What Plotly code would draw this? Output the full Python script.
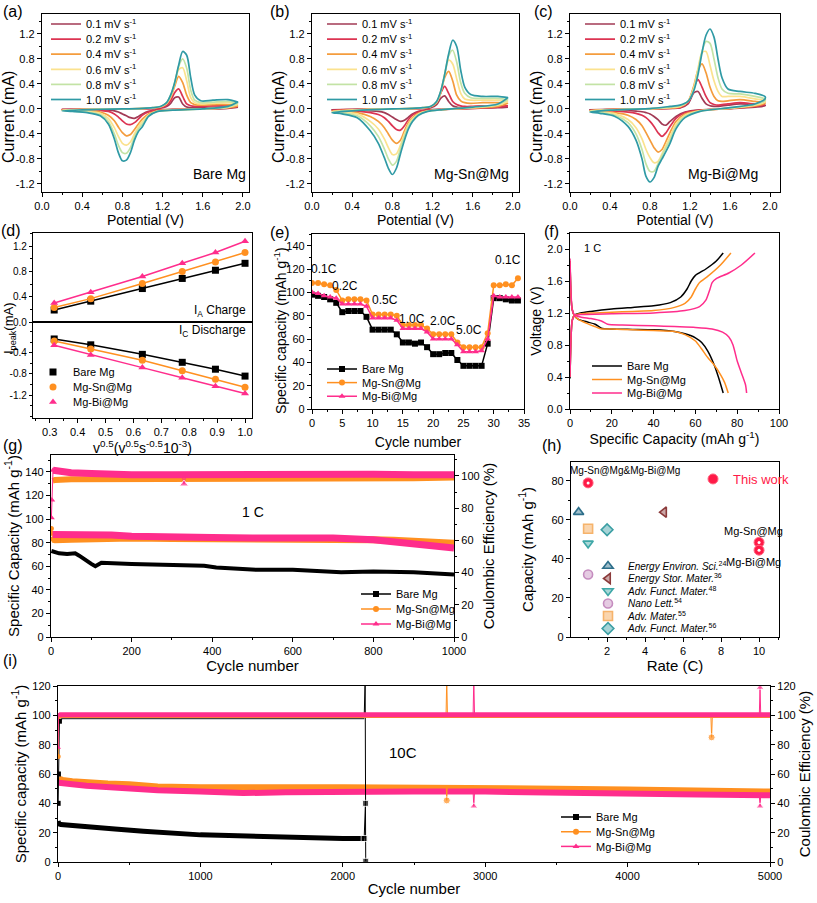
import plotly.graph_objects as go

W, H = 817, 903
FONT = "Liberation Sans, Arial, sans-serif"
BLACK = "#000000"
ORANGE = "#ff9020"
PINK = "#ff2d8c"

# ---------------- (a)-(c) CV curves ----------------
cv_rates = ["0.1", "0.2", "0.4", "0.6", "0.8", "1.0"]
cv_colors = ["#a23a55", "#dc3452", "#f49c3d", "#fbe28e", "#c3e3a5", "#2f9aa5"]
cv_v_fwd = [0.20, 0.40, 0.60, 0.80, 1.00, 1.10, 1.18, 1.24, 1.28, 1.32, 1.36, 1.40, 1.44, 1.48, 1.52, 1.58, 1.70, 1.85, 1.95]
cv_v_rev = [1.95, 1.85, 1.60, 1.30, 1.15, 1.06, 1.00, 0.96, 0.92, 0.88, 0.84, 0.80, 0.76, 0.72, 0.66, 0.58, 0.45, 0.30, 0.20]

a_fwd = [
    [-0.008, -0.004, 0, 0, 0.003, 0.006, 0.012, 0.04, 0.09, 0.18, 0.19, 0.08, 0.03, 0.02, 0.02, 0.02, 0.025, 0.03, 0.03],
    [-0.01, -0.005, 0, 0, 0.004, 0.01, 0.02, 0.06, 0.13, 0.26, 0.32, 0.2, 0.08, 0.05, 0.04, 0.04, 0.05, 0.05, 0.04],
    [-0.015, -0.008, -0.002, 0, 0.006, 0.015, 0.03, 0.08, 0.18, 0.36, 0.52, 0.42, 0.22, 0.1, 0.07, 0.06, 0.07, 0.07, 0.05],
    [-0.02, -0.01, -0.003, 0, 0.008, 0.018, 0.035, 0.09, 0.2, 0.4, 0.63, 0.66, 0.45, 0.18, 0.1, 0.08, 0.09, 0.1, 0.07],
    [-0.025, -0.012, -0.004, 0, 0.01, 0.02, 0.04, 0.1, 0.22, 0.42, 0.68, 0.8, 0.65, 0.3, 0.14, 0.1, 0.11, 0.12, 0.09],
    [-0.03, -0.015, -0.005, 0, 0.01, 0.02, 0.04, 0.1, 0.22, 0.42, 0.7, 0.92, 0.86, 0.5, 0.22, 0.13, 0.14, 0.15, 0.11],
]
a_rev = [
    [0.03, 0.01, 0, -0.008, -0.015, -0.04, -0.08, -0.12, -0.15, -0.14, -0.11, -0.08, -0.05, -0.03, -0.02, -0.012, -0.01, -0.008, -0.008],
    [0.04, 0.015, 0, -0.01, -0.02, -0.05, -0.1, -0.16, -0.22, -0.25, -0.24, -0.19, -0.13, -0.08, -0.04, -0.025, -0.015, -0.01, -0.01],
    [0.05, 0.02, 0, -0.012, -0.03, -0.08, -0.16, -0.24, -0.33, -0.41, -0.43, -0.38, -0.29, -0.19, -0.1, -0.05, -0.03, -0.02, -0.015],
    [0.07, 0.025, 0, -0.015, -0.035, -0.1, -0.2, -0.28, -0.4, -0.53, -0.58, -0.55, -0.44, -0.3, -0.15, -0.07, -0.04, -0.03, -0.02],
    [0.09, 0.03, 0, -0.02, -0.04, -0.11, -0.24, -0.32, -0.45, -0.62, -0.71, -0.7, -0.58, -0.4, -0.2, -0.09, -0.05, -0.035, -0.025],
    [0.11, 0.04, 0, -0.02, -0.04, -0.12, -0.28, -0.36, -0.5, -0.7, -0.82, -0.83, -0.7, -0.48, -0.24, -0.11, -0.06, -0.04, -0.03],
]
b_fwd = [
    [-0.015, -0.008, 0, 0, 0.003, 0.008, 0.02, 0.07, 0.17, 0.21, 0.12, 0.05, 0.03, 0.02, 0.02, 0.02, 0.025, 0.03, 0.03],
    [-0.02, -0.01, -0.002, 0, 0.004, 0.01, 0.03, 0.1, 0.25, 0.36, 0.25, 0.12, 0.07, 0.05, 0.04, 0.04, 0.05, 0.05, 0.05],
    [-0.03, -0.015, -0.004, 0, 0.006, 0.015, 0.035, 0.1, 0.25, 0.5, 0.6, 0.45, 0.22, 0.13, 0.1, 0.09, 0.1, 0.1, 0.09],
    [-0.04, -0.02, -0.006, 0, 0.008, 0.018, 0.04, 0.11, 0.27, 0.55, 0.78, 0.72, 0.48, 0.25, 0.16, 0.14, 0.14, 0.14, 0.12],
    [-0.05, -0.025, -0.008, 0, 0.01, 0.02, 0.04, 0.11, 0.27, 0.55, 0.85, 0.94, 0.75, 0.42, 0.25, 0.18, 0.17, 0.17, 0.15],
    [-0.06, -0.03, -0.01, 0, 0.01, 0.02, 0.04, 0.12, 0.28, 0.55, 0.88, 1.1, 1.0, 0.62, 0.35, 0.23, 0.2, 0.2, 0.18],
]
b_rev = [
    [0.03, 0.02, 0.008, -0.006, -0.015, -0.04, -0.08, -0.13, -0.18, -0.2, -0.17, -0.13, -0.09, -0.06, -0.04, -0.03, -0.02, -0.015, -0.015],
    [0.05, 0.03, 0.01, -0.008, -0.02, -0.05, -0.1, -0.17, -0.27, -0.34, -0.33, -0.27, -0.2, -0.14, -0.09, -0.06, -0.035, -0.025, -0.02],
    [0.09, 0.04, 0.015, -0.01, -0.03, -0.07, -0.14, -0.22, -0.35, -0.5, -0.55, -0.5, -0.4, -0.3, -0.2, -0.12, -0.06, -0.04, -0.03],
    [0.12, 0.06, 0.02, -0.01, -0.035, -0.08, -0.16, -0.25, -0.4, -0.58, -0.72, -0.73, -0.62, -0.48, -0.32, -0.2, -0.08, -0.05, -0.04],
    [0.15, 0.07, 0.025, -0.01, -0.04, -0.09, -0.18, -0.28, -0.44, -0.64, -0.84, -0.9, -0.8, -0.64, -0.44, -0.27, -0.11, -0.065, -0.05],
    [0.18, 0.08, 0.03, -0.01, -0.04, -0.1, -0.2, -0.32, -0.5, -0.72, -0.95, -1.05, -0.95, -0.78, -0.55, -0.35, -0.14, -0.08, -0.06],
]
c_fwd = [
    [-0.015, -0.006, 0, 0.001, 0.008, 0.015, 0.08, 0.26, 0.28, 0.17, 0.08, 0.05, 0.04, 0.04, 0.05, 0.06, 0.08, 0.07, 0.06],
    [-0.02, -0.008, 0, 0.002, 0.01, 0.02, 0.1, 0.35, 0.47, 0.35, 0.2, 0.1, 0.07, 0.06, 0.07, 0.08, 0.1, 0.08, 0.07],
    [-0.025, -0.01, -0.002, 0.002, 0.015, 0.03, 0.12, 0.38, 0.62, 0.72, 0.58, 0.35, 0.2, 0.13, 0.12, 0.13, 0.15, 0.12, 0.1],
    [-0.03, -0.012, -0.003, 0.003, 0.02, 0.04, 0.12, 0.35, 0.65, 0.9, 0.92, 0.7, 0.45, 0.28, 0.2, 0.2, 0.2, 0.16, 0.13],
    [-0.04, -0.016, -0.004, 0.004, 0.03, 0.05, 0.12, 0.32, 0.6, 0.92, 1.08, 1.05, 0.8, 0.5, 0.32, 0.25, 0.24, 0.2, 0.16],
    [-0.05, -0.02, -0.005, 0.005, 0.04, 0.06, 0.12, 0.3, 0.55, 0.9, 1.18, 1.28, 1.15, 0.8, 0.5, 0.32, 0.28, 0.25, 0.2],
]
c_rev = [
    [0.05, 0.03, 0.006, -0.015, -0.05, -0.12, -0.2, -0.26, -0.24, -0.17, -0.12, -0.08, -0.06, -0.045, -0.035, -0.025, -0.02, -0.015, -0.015],
    [0.07, 0.04, 0.008, -0.02, -0.06, -0.15, -0.28, -0.38, -0.44, -0.38, -0.28, -0.2, -0.14, -0.1, -0.07, -0.05, -0.035, -0.025, -0.02],
    [0.09, 0.05, 0.01, -0.025, -0.08, -0.2, -0.38, -0.52, -0.65, -0.69, -0.62, -0.5, -0.38, -0.27, -0.17, -0.1, -0.06, -0.04, -0.025],
    [0.11, 0.06, 0.012, -0.03, -0.1, -0.24, -0.45, -0.58, -0.72, -0.84, -0.86, -0.78, -0.65, -0.48, -0.3, -0.17, -0.08, -0.05, -0.03],
    [0.13, 0.07, 0.015, -0.035, -0.12, -0.28, -0.5, -0.62, -0.75, -0.88, -1.0, -1.0, -0.88, -0.65, -0.4, -0.22, -0.1, -0.06, -0.04],
    [0.16, 0.08, 0.02, -0.04, -0.14, -0.32, -0.55, -0.68, -0.8, -0.92, -1.1, -1.17, -1.08, -0.8, -0.5, -0.28, -0.12, -0.07, -0.05],
]

# ---------------- (d) peak current vs v^0.5 ----------------
d_v = [0.316, 0.447, 0.632, 0.775, 0.894, 1.0]
d_ia_bare = [0.19, 0.33, 0.53, 0.69, 0.82, 0.93]
d_ia_sn = [0.23, 0.37, 0.61, 0.80, 0.95, 1.10]
d_ia_bi = [0.30, 0.47, 0.72, 0.93, 1.10, 1.28]
d_ic_bare = [-0.14, -0.25, -0.43, -0.58, -0.71, -0.84]
d_ic_sn = [-0.18, -0.33, -0.54, -0.74, -0.90, -1.05]
d_ic_bi = [-0.26, -0.44, -0.68, -0.87, -1.03, -1.17]

# ---------------- (e) rate performance ----------------
e_cycle = list(range(35))
e_bare = [98, 97, 96, 94, 91, 83, 84, 84, 84, 79, 68, 68, 68, 68, 64, 57, 57, 56, 57, 53,
          47, 47, 48, 48, 42, 37, 37, 37, 37, 56, 95, 95, 94, 93, 93]
e_sn = [108, 108, 107, 106, 102, 93, 94, 94, 94, 93, 81, 81, 81, 81, 80, 72, 72, 72, 72, 69,
        64, 64, 64, 64, 57, 53, 53, 53, 53, 65, 106, 106, 107, 106, 112]
e_bi = [100, 99, 97, 96, 95, 90, 90, 90, 90, 88, 78, 78, 78, 78, 76, 69, 69, 69, 69, 66,
        60, 60, 60, 60, 55, 49, 49, 49, 50, 60, 97, 96, 96, 96, 96]
e_rate_labels = ["0.1C", "0.2C", "0.5C", "1.0C", "2.0C", "5.0C", "0.1C"]
e_label_x = [1.9, 5.5, 12.0, 16.5, 21.7, 26.0, 32.4]
e_label_y = [120, 105, 93, 77.5, 75.5, 68, 128]

# ---------------- (f) charge/discharge at 1 C ----------------
f_bare_chg_x = [0, 0.5, 1, 2, 5, 10, 20, 30, 40, 48, 53, 56, 58, 60, 65, 70, 73.3]
f_bare_chg_y = [0.38, 0.9, 1.1, 1.17, 1.2, 1.22, 1.25, 1.27, 1.29, 1.33, 1.4, 1.5, 1.6, 1.67, 1.75, 1.85, 1.95]
f_bare_dis_x = [0, 0.5, 1, 2, 4, 8, 12, 15, 20, 30, 40, 50, 55, 60, 63, 66, 69, 71, 73.3]
f_bare_dis_y = [1.85, 1.4, 1.25, 1.17, 1.12, 1.09, 1.06, 1.01, 1.0, 0.995, 0.99, 0.97, 0.94, 0.89, 0.83, 0.72, 0.55, 0.4, 0.2]
f_sn_chg_x = [0, 0.5, 1, 2, 5, 10, 20, 30, 40, 50, 55, 58, 60, 62, 66, 72, 77]
f_sn_chg_y = [0.4, 0.9, 1.1, 1.17, 1.19, 1.2, 1.21, 1.22, 1.23, 1.27, 1.32, 1.4, 1.5, 1.58, 1.66, 1.8, 1.95]
f_sn_dis_x = [0, 0.5, 1, 2, 4, 8, 12, 15, 20, 30, 40, 50, 55, 60, 63, 66, 69, 72, 74, 75.7]
f_sn_dis_y = [1.85, 1.4, 1.25, 1.17, 1.12, 1.07, 1.03, 1.0, 1.0, 0.99, 0.98, 0.97, 0.93, 0.85, 0.75, 0.64, 0.55, 0.43, 0.33, 0.2]
f_bi_chg_x = [0, 0.5, 1, 2, 5, 20, 40, 55, 62, 65, 67, 68, 70, 76, 82, 88.5]
f_bi_chg_y = [0.4, 0.9, 1.1, 1.16, 1.18, 1.19, 1.2, 1.23, 1.28, 1.36, 1.5, 1.58, 1.63, 1.7, 1.8, 1.95]
f_bi_dis_x = [0, 0.5, 1, 2, 5, 10, 15, 18, 25, 40, 50, 60, 68, 73, 76, 78, 80, 82, 84, 84.5]
f_bi_dis_y = [1.88, 1.45, 1.25, 1.18, 1.15, 1.13, 1.1, 1.06, 1.05, 1.04, 1.03, 1.02, 1.0, 0.96, 0.9, 0.8, 0.6, 0.45, 0.3, 0.2]

# ---------------- (g) 1 C cycling ----------------
g_bare_x = [1, 20, 40, 60, 70, 85, 100, 110, 125, 200, 300, 380, 410, 480, 510, 600, 700, 720, 800, 900, 1000]
g_bare_y = [73, 71, 70.5, 71, 69, 65, 62, 60, 63, 62, 61.5, 60.5, 59, 58, 57, 57, 56, 55, 55.5, 55, 53]
g_cap_x = [4, 10, 50, 100, 150, 200, 300, 400, 500, 600, 700, 800, 850, 900, 950, 1000]
g_sn_cap = [83, 82.5, 83, 83.5, 84, 84, 83.5, 83.5, 83, 83, 83, 82.5, 82, 81, 80, 79.5]
g_bi_cap = [87, 87, 87, 87, 86.5, 85.5, 84.5, 84.5, 84, 84, 84, 82.5, 81, 79.5, 77, 75.5]
g_sn_ce_x = [4, 10, 50, 100, 200, 300, 400, 500, 600, 700, 800, 900, 1000]
g_sn_ce = [97, 97.5, 98, 98, 98.3, 98.3, 98.5, 98.5, 98.3, 98.5, 98.5, 98.5, 99]
g_bi_ce_x = [5, 20, 50, 100, 150, 200, 300, 400, 500, 600, 700, 800, 900, 1000]
g_bi_ce = [103.5, 103, 102, 101.5, 101, 100.8, 100.8, 101, 101, 101, 101, 101, 100.8, 100.8]
g_sn_first_x = [1, 2, 4]
g_sn_first_cap = [92, 88, 83]
g_bi_first_x = [1, 2, 5]
g_bi_first_ce = [74, 85, 103.5]
g_bi_out_x = [325, 330, 335]
g_bi_out_ce = [101, 95, 101]

# ---------------- (h) comparison ----------------
h_refs = ["<i>Energy Environ. Sci.</i><sup>24</sup>", "<i>Energy Stor. Mater.</i><sup>36</sup>",
          "<i>Adv. Funct. Mater.</i><sup>48</sup>", "<i>Nano Lett.</i><sup>54</sup>",
          "<i>Adv. Mater.</i><sup>55</sup>", "<i>Adv. Funct. Mater.</i><sup>56</sup>"]
h_rate = [0.5, 5.0, 1.0, 1.0, 1.0, 2.0]
h_cap = [64, 64, 48, 32, 55.5, 55]
h_symbols = ["triangle-up", "triangle-left", "triangle-down", "circle", "square", "diamond"]
h_colors = ["#2c6e8a", "#8b3a3a", "#3ea7a7", "#c58cbf", "#f6b36b", "#3a9ea3"]
h_fills = ["rgba(44,110,138,0.45)", "rgba(139,58,58,0.45)", "rgba(62,167,167,0.45)",
           "rgba(197,140,191,0.45)", "rgba(246,179,107,0.55)", "rgba(58,158,163,0.45)"]
h_work_rate = [1.0, 10.0, 10.0]
h_work_cap = [79, 48.5, 44.5]

# ---------------- (i) 10 C long cycling ----------------
i_bare_x = [1, 5, 20, 100, 200, 400, 600, 800, 1000, 1200, 1500, 1800, 2000, 2150]
i_bare_cap = [28, 26, 25.5, 25, 24, 22.5, 21, 19.5, 18.5, 18, 17, 16.5, 16, 16]
i_bare_ce_x = [10, 30, 100, 500, 1000, 1500, 2000, 2150]
i_bare_ce = [96, 97.8, 97.8, 97.8, 97.8, 97.8, 97.8, 97.8]
i_bare_first_x = [1, 3, 10]
i_bare_first_ce = [40, 60, 96]
i_bare_end_x = [2150, 2157, 2160]
i_bare_end_ce = [98, 125, 40]
i_bare_drop_x = [2150, 2159, 2161]
i_bare_drop_cap = [16, 40, 0.5]
i_cap_x = [5, 30, 100, 200, 350, 500, 700, 1000, 1300, 1600, 2000, 2500, 3000, 3500, 4000, 4500, 5000]
i_sn_cap = [57, 56, 55, 54, 53.5, 53, 51.5, 51, 50.5, 51, 51, 51, 51, 50, 49.5, 48.5, 48]
i_bi_cap = [54, 53.5, 53, 52, 51, 50, 49, 48, 47, 47.5, 48, 48, 48, 47, 46.5, 46, 45.5]
i_ce_x = [10, 1000, 2000, 3000, 4000, 5000]
i_sn_ce = [99.6, 99.6, 99.6, 99.6, 99.6, 99.6]
i_bi_ce = [100.4, 100.4, 100.4, 100.4, 100.4, 100.4]
i_sn_first_x = [1, 3, 10]
i_sn_first = [72, 99, 99.6]
i_bi_first_x = [1, 3, 10]
i_bi_first = [78, 100, 100.4]
i_sn_out_x = [[2725, 2730, 2735], [2727, 2730, 2733], [4585, 4590, 4595]]
i_sn_out_y = [[99.6, 125, 99.6], [51, 42, 51], [99.6, 85, 99.6]]
i_sn_out_mark = [False, True, True]
i_bi_out_x = [[2915, 2920, 2925], [2915, 2920, 2925], [4925, 4930, 4935], [4925, 4930, 4935]]
i_bi_out_y = [[100.4, 125, 100.4], [48, 38, 48], [100.4, 119, 100.4], [45.5, 38, 45.5]]
i_bi_out_mark = [False, True, True, True]

# =================================================================
def px_x(x0, x1):
    return [x0 / W, x1 / W]


def px_y(top, bottom):
    return [1 - bottom / H, 1 - top / H]


def ttl(text, size=14, standoff=3):
    return dict(text=text, font=dict(family=FONT, size=size, color="black"), standoff=standoff)


def axis(dom, rng, **kw):
    d = dict(domain=dom, range=rng, showline=True, linecolor="black", linewidth=1.3, mirror=True,
             ticks="outside", ticklen=4, tickwidth=1.1, tickcolor="black",
             tickfont=dict(family=FONT, size=11, color="black"),
             showgrid=False, zeroline=False, automargin=False, fixedrange=True)
    d.update(kw)
    return d


def fmt_ticks(vals, nd=1):
    return dict(tickmode="array", tickvals=vals, ticktext=[f"{v:.{nd}f}" for v in vals])


def minor(dt):
    return dict(ticks="outside", ticklen=2, tickcolor="black", dtick=dt, tick0=0)


def vtitle(text, x_px, y_px, size):
    return dict(x=x_px / W, y=1 - y_px / H, xref="paper", yref="paper", textangle=-90, text=text,
                xanchor="center", yanchor="middle",
                showarrow=False, font=dict(family=FONT, size=size, color="black"))


legends = {}
_lc = [0]


def new_legend(x_px, y_px, size=11, color="black"):
    _lc[0] += 1
    key = "legend" if _lc[0] == 1 else f"legend{_lc[0]}"
    legends[key] = dict(x=x_px / W, y=1 - y_px / H, xanchor="left", yanchor="middle",
                        bgcolor="rgba(0,0,0,0)", borderwidth=0, itemwidth=30, tracegroupgap=0,
                        font=dict(family=FONT, size=size, color=color))
    return key


fig = go.Figure()
layout = {}
annotations = []

cv_v_loop = cv_v_fwd + cv_v_rev
cv_xticks = [0.0, 0.4, 0.8, 1.2, 1.6, 2.0]
cv_yticks = [-1.2, -0.8, -0.4, 0.0, 0.4, 0.8, 1.2]
cv_panels = [
    (a_fwd, a_rev, "x", "y", (42, 249), [0, 2.06], 46, "Bare Mg", 1.77),
    (b_fwd, b_rev, "x2", "y2", (312, 519), [0, 2.06], 322, "Mg-Sn@Mg", 1.59),
    (c_fwd, c_rev, "x3", "y3", (570, 780), [0, 2.1], 580, "Mg-Bi@Mg", 1.53),
]
for k, (fwd, rev, xa, ya, xd, xr, lx, lab, labx) in enumerate(cv_panels):
    for i, rate in enumerate(cv_rates):
        key = new_legend(lx, 24 + i * 15.1)
        fig.add_trace(go.Scatter(x=cv_v_loop, y=fwd[i] + rev[i], mode="lines",
                                 line=dict(color=cv_colors[i], width=1.7, shape="spline", smoothing=0.8),
                                 name=f"{rate} mV s<sup>-1</sup>", legend=key, xaxis=xa, yaxis=ya))
    sfx = "" if k == 0 else str(k + 1)
    layout["xaxis" + sfx] = axis(px_x(*xd), xr, anchor=ya, title=ttl("Potential (V)", 14, 2),
                                 minor=minor(0.2), **fmt_ticks(cv_xticks))
    layout["yaxis" + sfx] = axis(px_y(14, 192), [-1.33, 1.52], anchor=xa,
                                 minor=minor(0.2), **fmt_ticks(cv_yticks))
    annotations.append(vtitle("Current (mA)", xd[0] - 33, 117, 16))
    annotations.append(dict(x=labx, y=-1.04, xref=xa, yref=ya, text=lab, showarrow=False,
                            font=dict(family=FONT, size=14, color="black")))

# ---- (d)
d_series = [("Bare Mg", BLACK, "square", d_ia_bare, d_ic_bare),
            ("Mg-Sn@Mg", ORANGE, "circle", d_ia_sn, d_ic_sn),
            ("Mg-Bi@Mg", PINK, "triangle-up", d_ia_bi, d_ic_bi)]
for i, (nm, col, sym, ia, ic) in enumerate(d_series):
    fig.add_trace(go.Scatter(x=d_v, y=ia, mode="lines+markers", line=dict(color=col, width=1.5),
                             marker=dict(symbol=sym, size=7, color=col), showlegend=False,
                             xaxis="x4", yaxis="y4"))
    key = new_legend(33, 372 + i * 15)
    fig.add_trace(go.Scatter(x=d_v, y=ic, mode="lines+markers", line=dict(color=col, width=1.5),
                             marker=dict(symbol=sym, size=7, color=col), showlegend=False,
                             xaxis="x5", yaxis="y5"))
    fig.add_trace(go.Scatter(x=[None], y=[None], mode="markers", marker=dict(symbol=sym, size=7, color=col),
                             name=nm, legend=key, xaxis="x5", yaxis="y5"))
d_tickfont = dict(family=FONT, size=10, color="black")
layout["xaxis4"] = axis(px_x(33, 252), [0.24, 1.025], anchor="y4", showticklabels=False, ticks="")
layout["yaxis4"] = axis(px_y(233, 322), [0, 1.41], anchor="x4", minor=minor(0.2), ticklen=3,
                        tickfont=d_tickfont, **fmt_ticks([0.0, 0.4, 0.8, 1.2]))
layout["xaxis5"] = axis(px_x(33, 252), [0.24, 1.025], anchor="y5", minor=minor(0.05),
                        title=ttl("v<sup>0.5</sup>(v<sup>0.5</sup>s<sup>-0.5</sup>10<sup>-3</sup>)", 14, 0),
                        **fmt_ticks([0.3, 0.4, 0.5, 0.6, 0.7, 0.8, 0.9, 1.0]))
layout["yaxis5"] = axis(px_y(322, 418), [-1.63, 0.18], anchor="x5", minor=minor(0.2), ticklen=3,
                        tickfont=d_tickfont, **fmt_ticks([-1.2, -0.8, -0.4]))
annotations.append(dict(x=248 / W, y=1 - 311 / H, xref="paper", yref="paper", xanchor="right",
                        text="I<sub>A</sub> Charge", showarrow=False,
                        font=dict(family=FONT, size=12, color="black")))
annotations.append(dict(x=248 / W, y=1 - 331 / H, xref="paper", yref="paper", xanchor="right",
                        text="I<sub>C</sub> Discharge", showarrow=False,
                        font=dict(family=FONT, size=12, color="black")))
annotations.append(vtitle("I<sub>peak</sub>(mA)", 9, 328, 13))

# ---- (e)
e_series = [("Bare Mg", BLACK, "square", e_bare), ("Mg-Sn@Mg", ORANGE, "circle", e_sn),
            ("Mg-Bi@Mg", PINK, "triangle-up", e_bi)]
for i, (nm, col, sym, yy) in enumerate(e_series):
    key = new_legend(322, 369 + i * 13.6)
    fig.add_trace(go.Scatter(x=e_cycle, y=yy, mode="lines+markers", line=dict(color=col, width=1.5),
                             marker=dict(symbol=sym, size=6, color=col), name=nm, legend=key,
                             xaxis="x6", yaxis="y6"))
for t, xx, yy in zip(e_rate_labels, e_label_x, e_label_y):
    annotations.append(dict(x=xx, y=yy, xref="x6", yref="y6", text=t, showarrow=False,
                            font=dict(family=FONT, size=12, color="black")))
layout["xaxis6"] = axis(px_x(312, 524), [0, 35], anchor="y6", dtick=5, tick0=0, minor=minor(2.5),
                        title=ttl("Cycle number", 14, 8))
layout["yaxis6"] = axis(px_y(234, 409), [0, 150], anchor="x6", tickmode="array",
                        tickvals=list(range(0, 141, 20)), minor=minor(10))
annotations.append(vtitle("Specific capacity (mAh g<sup>-1</sup>)", 280, 331, 14))

# ---- (f)
f_series = [("Bare Mg", BLACK, f_bare_chg_x, f_bare_chg_y, f_bare_dis_x, f_bare_dis_y),
            ("Mg-Sn@Mg", ORANGE, f_sn_chg_x, f_sn_chg_y, f_sn_dis_x, f_sn_dis_y),
            ("Mg-Bi@Mg", PINK, f_bi_chg_x, f_bi_chg_y, f_bi_dis_x, f_bi_dis_y)]
for i, (nm, col, cx, cy, dx_, dy_) in enumerate(f_series):
    key = new_legend(587, 366 + i * 13.5)
    fig.add_trace(go.Scatter(x=cx, y=cy, mode="lines", line=dict(color=col, width=1.5, shape="spline", smoothing=0.6),
                             name=nm, legend=key, xaxis="x7", yaxis="y7"))
    fig.add_trace(go.Scatter(x=dx_, y=dy_, mode="lines", line=dict(color=col, width=1.5, shape="spline", smoothing=0.6),
                             showlegend=False, xaxis="x7", yaxis="y7"))
annotations.append(dict(x=11, y=2.01, xref="x7", yref="y7", text="1 C", showarrow=False,
                        font=dict(family=FONT, size=11, color="black")))
layout["xaxis7"] = axis(px_x(570, 779), [0, 100], anchor="y7", dtick=20, tick0=0, minor=minor(10),
                        title=ttl("Specific Capacity (mAh g<sup>-1</sup>)", 14, 3))
layout["yaxis7"] = axis(px_y(233, 409), [0, 2.2], anchor="x7", minor=minor(0.2),
                        title=ttl("Voltage (V)", 14, 2), **fmt_ticks([0.0, 0.4, 0.8, 1.2, 1.6, 2.0]))

# ---- (g)
fig.add_trace(go.Scatter(x=g_bare_x, y=g_bare_y, mode="lines", line=dict(color=BLACK, width=4),
                         showlegend=False, xaxis="x8", yaxis="y8"))
fig.add_trace(go.Scatter(x=g_cap_x, y=g_sn_cap, mode="lines", line=dict(color=ORANGE, width=7),
                         showlegend=False, xaxis="x8", yaxis="y8"))
fig.add_trace(go.Scatter(x=g_sn_first_x, y=g_sn_first_cap, mode="lines+markers", line=dict(color=ORANGE, width=1),
                         marker=dict(size=5, color=ORANGE), showlegend=False, xaxis="x8", yaxis="y8"))
fig.add_trace(go.Scatter(x=g_cap_x, y=g_bi_cap, mode="lines", line=dict(color=PINK, width=7),
                         showlegend=False, xaxis="x8", yaxis="y8"))
fig.add_trace(go.Scatter(x=g_sn_ce_x, y=g_sn_ce, mode="lines", line=dict(color=ORANGE, width=6),
                         showlegend=False, xaxis="x8", yaxis="y9"))
fig.add_trace(go.Scatter(x=g_bi_ce_x, y=g_bi_ce, mode="lines", line=dict(color=PINK, width=7),
                         showlegend=False, xaxis="x8", yaxis="y9"))
fig.add_trace(go.Scatter(x=g_bi_first_x, y=g_bi_first_ce, mode="lines+markers", line=dict(color=PINK, width=1),
                         marker=dict(symbol="triangle-up", size=6, color=PINK), showlegend=False,
                         xaxis="x8", yaxis="y9"))
fig.add_trace(go.Scatter(x=g_bi_out_x, y=g_bi_out_ce, mode="lines+markers", line=dict(color=PINK, width=1),
                         marker=dict(symbol="triangle-up", size=[0, 8, 0], color=PINK), showlegend=False,
                         xaxis="x8", yaxis="y9"))
for i, (nm, col, sym) in enumerate([("Bare Mg", BLACK, "square"), ("Mg-Sn@Mg", ORANGE, "circle"),
                                    ("Mg-Bi@Mg", PINK, "triangle-up")]):
    key = new_legend(356, 594 + i * 15)
    fig.add_trace(go.Scatter(x=[None], y=[None], mode="lines+markers", line=dict(color=col, width=1.5),
                             marker=dict(symbol=sym, size=6, color=col), name=nm, legend=key,
                             xaxis="x8", yaxis="y8"))
annotations.append(dict(x=502, y=106, xref="x8", yref="y8", text="1 C", showarrow=False,
                        font=dict(family=FONT, size=14, color="black")))
layout["xaxis8"] = axis(px_x(51, 454), [0, 1000], anchor="y8", dtick=200, tick0=0, minor=minor(100),
                        title=ttl("Cycle number", 15, 2))
layout["yaxis8"] = axis(px_y(455, 637), [0, 154.4], anchor="x8", tickmode="array", mirror=False,
                        tickvals=list(range(0, 141, 20)), minor=minor(10),
                        title=ttl("Specific Capacity (mAh g<sup>-1</sup>)", 15, 2))
layout["yaxis9"] = axis(None, [0, 113], anchor="x8", overlaying="y8", side="right", mirror=False,
                        tickmode="array", tickvals=list(range(0, 101, 20)), minor=minor(10),
                        title=ttl("Coulombic Efficiency (%)", 15, 3))
del layout["yaxis9"]["domain"]

# ---- (h)
for i, (nm, xx, yy, sym, col, fc) in enumerate(zip(h_refs, h_rate, h_cap, h_symbols, h_colors, h_fills)):
    key = new_legend(588, 566 + i * 12.5, size=10)
    fig.add_trace(go.Scatter(x=[xx], y=[yy], mode="markers",
                             marker=dict(symbol=sym, size=9, color=fc, line=dict(color=col, width=1.6)),
                             name=nm, legend=key, xaxis="x9", yaxis="y10"))
key = new_legend(693, 479, size=13, color="#ff1a47")
fig.add_trace(go.Scatter(x=h_work_rate, y=h_work_cap, mode="markers",
                         marker=dict(symbol="circle", size=10, color="#ff1a47", line=dict(color="#ff6680", width=1)),
                         name="This work", legend=key, xaxis="x9", yaxis="y10"))
fig.add_trace(go.Scatter(x=h_work_rate, y=h_work_cap, mode="markers",
                         marker=dict(symbol="circle", size=3, color="white"),
                         showlegend=False, xaxis="x9", yaxis="y10"))
annotations += [
    dict(x=2.95, y=85.6, xref="x9", yref="y10", text="Mg-Sn@Mg&Mg-Bi@Mg", showarrow=False,
         font=dict(family=FONT, size=10, color="black")),
    dict(x=9.7, y=54.4, xref="x9", yref="y10", text="Mg-Sn@Mg", showarrow=False,
         font=dict(family=FONT, size=11, color="black")),
    dict(x=9.7, y=38.5, xref="x9", yref="y10", text="Mg-Bi@Mg", showarrow=False,
         font=dict(family=FONT, size=11, color="black")),
]
layout["xaxis9"] = axis(px_x(571, 779), [0.1, 11.05], anchor="y10", tickmode="array",
                        tickvals=[2, 4, 6, 8, 10], minor=minor(1), title=ttl("Rate (C)", 15, 2))
layout["yaxis10"] = axis(px_y(462, 637), [0, 89.7], anchor="x9", tickmode="array",
                         tickvals=[0, 20, 40, 60, 80], minor=minor(10),
                         title=ttl("Capacity (mAh g<sup>-1</sup>)", 15, 14))

# ---- (i)
fig.add_trace(go.Scatter(x=i_bare_ce_x, y=i_bare_ce, mode="lines", line=dict(color="#444444", width=1.5),
                         showlegend=False, xaxis="x10", yaxis="y12"))
fig.add_trace(go.Scatter(x=i_bare_first_x, y=i_bare_first_ce, mode="lines+markers", line=dict(color=BLACK, width=1),
                         marker=dict(symbol="square", size=5, color=BLACK), showlegend=False,
                         xaxis="x10", yaxis="y12"))
fig.add_trace(go.Scatter(x=i_bare_end_x, y=i_bare_end_ce, mode="lines+markers", line=dict(color=BLACK, width=1),
                         marker=dict(symbol="square", size=[0, 0, 6], color=BLACK), showlegend=False,
                         xaxis="x10", yaxis="y12"))
fig.add_trace(go.Scatter(x=i_bare_x, y=i_bare_cap, mode="lines", line=dict(color=BLACK, width=5),
                         showlegend=False, xaxis="x10", yaxis="y11"))
fig.add_trace(go.Scatter(x=i_bare_drop_x, y=i_bare_drop_cap, mode="lines+markers", line=dict(color=BLACK, width=1),
                         marker=dict(symbol="square", size=[6, 0, 6], color=BLACK), showlegend=False,
                         xaxis="x10", yaxis="y11"))
fig.add_trace(go.Scatter(x=i_cap_x, y=i_sn_cap, mode="lines", line=dict(color=ORANGE, width=6),
                         showlegend=False, xaxis="x10", yaxis="y11"))
fig.add_trace(go.Scatter(x=i_ce_x, y=i_sn_ce, mode="lines", line=dict(color=ORANGE, width=4),
                         showlegend=False, xaxis="x10", yaxis="y12"))
fig.add_trace(go.Scatter(x=i_sn_first_x, y=i_sn_first, mode="lines+markers", line=dict(color=ORANGE, width=1),
                         marker=dict(size=5, color=ORANGE), showlegend=False, xaxis="x10", yaxis="y12"))
for xs, ys, mk in zip(i_sn_out_x, i_sn_out_y, i_sn_out_mark):
    fig.add_trace(go.Scatter(x=xs, y=ys, mode="lines+markers", line=dict(color=ORANGE, width=1),
                             marker=dict(size=[0, 7 if mk else 0, 0], color=ORANGE), showlegend=False,
                             xaxis="x10", yaxis="y12"))
fig.add_trace(go.Scatter(x=i_cap_x, y=i_bi_cap, mode="lines", line=dict(color=PINK, width=6),
                         showlegend=False, xaxis="x10", yaxis="y11"))
fig.add_trace(go.Scatter(x=i_ce_x, y=i_bi_ce, mode="lines", line=dict(color=PINK, width=5),
                         showlegend=False, xaxis="x10", yaxis="y12"))
fig.add_trace(go.Scatter(x=i_bi_first_x, y=i_bi_first, mode="lines+markers", line=dict(color=PINK, width=1),
                         marker=dict(symbol="triangle-up", size=5, color=PINK), showlegend=False,
                         xaxis="x10", yaxis="y12"))
for xs, ys, mk in zip(i_bi_out_x, i_bi_out_y, i_bi_out_mark):
    fig.add_trace(go.Scatter(x=xs, y=ys, mode="lines+markers", line=dict(color=PINK, width=1),
                             marker=dict(symbol="triangle-up", size=[0, 7 if mk else 0, 0], color=PINK),
                             showlegend=False, xaxis="x10", yaxis="y12"))
for i, (nm, col, sym) in enumerate([("Bare Mg", BLACK, "square"), ("Mg-Sn@Mg", ORANGE, "circle"),
                                    ("Mg-Bi@Mg", PINK, "triangle-up")]):
    key = new_legend(556, 817 + i * 14.7)
    fig.add_trace(go.Scatter(x=[None], y=[None], mode="lines+markers", line=dict(color=col, width=1.5),
                             marker=dict(symbol=sym, size=6, color=col), name=nm, legend=key,
                             xaxis="x10", yaxis="y11"))
annotations.append(dict(x=2420, y=75, xref="x10", yref="y11", text="10C", showarrow=False,
                        font=dict(family=FONT, size=15, color="black")))
layout["xaxis10"] = axis(px_x(58, 770), [0, 5000], anchor="y11", dtick=1000, tick0=0, minor=minor(500),
                         title=ttl("Cycle number", 15, 2))
layout["yaxis11"] = axis(px_y(686, 862), [0, 120], anchor="x10", mirror=False, dtick=20, tick0=0,
                         minor=minor(10), title=ttl("Specific capacity (mAh g<sup>-1</sup>)", 15, 2))
layout["yaxis12"] = axis(None, [0, 120], anchor="x10", overlaying="y11", side="right", mirror=False,
                         dtick=20, tick0=0, minor=minor(10), title=ttl("Coulombic Efficiency (%)", 15, 3))
del layout["yaxis12"]["domain"]

# ---- panel labels
for t, xp, yp in [("(a)", 13, 11), ("(b)", 280, 11), ("(c)", 543, 11), ("(d)", 11, 230),
                  ("(e)", 280, 233), ("(f)", 551, 232), ("(g)", 13, 445), ("(h)", 552, 445),
                  ("(i)", 10, 660)]:
    annotations.append(dict(x=xp / W, y=1 - yp / H, xref="paper", yref="paper", text=t, showarrow=False,
                            xanchor="center", yanchor="middle",
                            font=dict(family=FONT, size=16, color="black")))

fig.update_layout(**layout)
fig.update_layout(**legends)
fig.update_layout(width=W, height=H, margin=dict(l=0, r=0, t=0, b=0), paper_bgcolor="white",
                  plot_bgcolor="white", showlegend=True, annotations=annotations,
                  font=dict(family=FONT, size=11, color="black"))
fig.write_html("out.html")
